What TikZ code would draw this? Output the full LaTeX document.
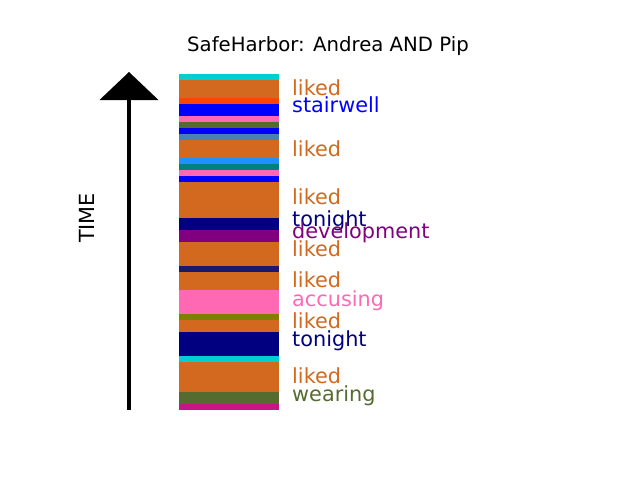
\documentclass[tikz,border=0pt]{standalone}
\usepackage{fontspec}
\setmainfont{DejaVu Sans}
\usepackage{tikz}
\usetikzlibrary{arrows.meta}

\definecolor{chocolate}{HTML}{D2691E}
\definecolor{darkturquoise}{HTML}{00CED1}
\definecolor{orangered}{HTML}{FF4500}
\definecolor{hotpink}{HTML}{FF69B4}
\definecolor{darkolivegreen}{HTML}{556B2F}
\definecolor{steelblue}{HTML}{4682B4}
\definecolor{dodgerblue}{HTML}{1E90FF}
\definecolor{tealc}{HTML}{008080}
\definecolor{navyc}{HTML}{000080}
\definecolor{purplec}{HTML}{800080}
\definecolor{midnightblue}{HTML}{191970}
\definecolor{olivec}{HTML}{808000}
\definecolor{mediumvioletred}{HTML}{C71585}
\definecolor{bluec}{HTML}{0000FF}

\begin{document}
\begin{tikzpicture}
[x = 1pt, y = -1pt]
\tikzset{
	word/.style = {anchor = base west, inner sep = 0, font = \fontsize{20.8}{24}\selectfont},
	heading/.style = {anchor = base, inner sep = 0, font = \fontsize{19.7}{23}\selectfont},
}
\useasboundingbox (0,0) rectangle (640,480);

\foreach \c/\a/\b in {darkturquoise/0/1, chocolate/1/4, orangered/4/5, bluec/5/7,
	hotpink/7/8, darkolivegreen/8/9, bluec/9/10, steelblue/10/11, chocolate/11/14,
	dodgerblue/14/15, tealc/15/16, hotpink/16/17, bluec/17/18, chocolate/18/24,
	navyc/24/26, purplec/26/28, chocolate/28/32, midnightblue/32/33, chocolate/33/36,
	hotpink/36/40, olivec/40/41, chocolate/41/43, navyc/43/47, darkturquoise/47/48,
	chocolate/48/53, darkolivegreen/53/55, mediumvioletred/55/56}
	\fill [\c] (179,74+6*\a) rectangle (279,74+6*\b);

\coordinate (tail) at (129,410);
\coordinate (head) at (129,72);
\draw [line width = 4.7pt, -{Triangle[width = 59pt, length = 28pt, line width = 0pt]}] (tail) -- (head);

\node (time)[heading, font = \fontsize{20.8}{24}\selectfont, rotate = 90] at (94,218) {TIME};
\node (title)[heading] at (328,51.5) {SafeHarbor: Andrea AND Pip};

\node (w1)[word, chocolate] at (292,95) {liked};
\node (w2)[word, bluec] at (292,112.7) {stairwell};
\node (w3)[word, chocolate] at (292,156) {liked};
\node (w4)[word, chocolate] at (292,204.3) {liked};
\node (w5)[word, navyc] at (292,226) {tonight};
\node (w6)[word, purplec] at (292,238.5) {development};
\node (w7)[word, chocolate] at (292,256.5) {liked};
\node (w8)[word, chocolate] at (292,287.7) {liked};
\node (w9)[word, hotpink] at (292,306) {accusing};
\node (w10)[word, chocolate] at (292,328.7) {liked};
\node (w11)[word, navyc] at (292,346.7) {tonight};
\node (w12)[word, chocolate] at (292,383.7) {liked};
\node (w13)[word, darkolivegreen] at (292,401.7) {wearing};

\end{tikzpicture}
\end{document}
